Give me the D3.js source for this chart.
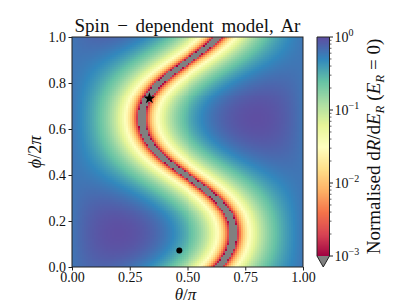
<!DOCTYPE html>
<html><head><meta charset="utf-8">
<script src="https://cdn.jsdelivr.net/npm/d3@7"></script>
<style>
body{margin:0;background:#fff}
svg{display:block}
text{font-family:"Liberation Serif","DejaVu Serif",serif;fill:#111}
</style>
</head><body>
<svg id="chart" width="407" height="305"></svg>
<script>
// ---- data ----
const thetaTicks = [0, 0.25, 0.5, 0.75, 1.0];          // θ/π
const phiTicks = [0, 0.2, 0.4, 0.6, 0.8, 1.0];         // φ/2π
const colorTicks = [1e-3, 1e-2, 1e-1, 1];
const colorTickExp = ["\u22123", "\u22122", "\u22121", "0"];
const colorExtent = [1e-3, 1];
const peakDirection = [0.2, 0.145];   // θ/π, φ/2π of the maximum rate
const falloffPower = [2.25];          // rate ∝ |q̂·d̂|^n
const starMarker = [0.335, 0.733];    // θ/π, φ/2π
const dotMarker = [0.4645, 0.0717];   // θ/π, φ/2π
const gridSize = [116, 116];
const spectral = ["#9e0142","#d53e4f","#f46d43","#fdae61","#fee08b","#ffffbf",
                  "#e6f598","#abdda4","#66c2a5","#3288bd","#5e4fa2"];
const underColor = "#808080";

// ---- layout ----
const svg = d3.select("#chart");
const X0 = 72, X1 = 303, Y0 = 37, Y1 = 267;
const x = d3.scaleLinear([0, 1], [X0, X1]);
const y = d3.scaleLinear([0, 1], [Y1, Y0]);
const cmap = d3.scaleLinear(d3.range(spectral.length).map(i => i / (spectral.length - 1)), spectral)
  .interpolate(d3.interpolateRgb).clamp(true);
const cnorm = d3.scaleLog(colorExtent, [0, 1]);
function colorOf(v){ return v < colorExtent[0] ? underColor : cmap(cnorm(Math.min(v, colorExtent[1]))); }

// ---- field ----
const td = peakDirection[0] * Math.PI, pd = peakDirection[1] * 2 * Math.PI;
const d = [Math.sin(td) * Math.cos(pd), Math.sin(td) * Math.sin(pd), Math.cos(td)];
function rate(t, p){
  const th = t * Math.PI, ph = p * 2 * Math.PI;
  const q = [Math.sin(th) * Math.cos(ph), Math.sin(th) * Math.sin(ph), Math.cos(th)];
  const dot = Math.abs(q[0]*d[0] + q[1]*d[1] + q[2]*d[2]);
  return Math.pow(dot, falloffPower[0]);
}
const [NX, NY] = gridSize;
const canvas = document.createElement("canvas");
canvas.width = NX; canvas.height = NY;
const ctx = canvas.getContext("2d");
const img = ctx.createImageData(NX, NY);
for (let j = 0; j < NY; j++){
  for (let i = 0; i < NX; i++){
    const t = (i + 0.5) / NX, p = 1 - (j + 0.5) / NY;
    const c = d3.rgb(colorOf(rate(t, p)));
    const k = 4 * (j * NX + i);
    img.data[k] = c.r; img.data[k+1] = c.g; img.data[k+2] = c.b; img.data[k+3] = 255;
  }
}
ctx.putImageData(img, 0, 0);
svg.append("image")
  .attr("href", canvas.toDataURL())
  .attr("x", x(0)).attr("y", y(1))
  .attr("width", x(1) - x(0)).attr("height", y(0) - y(1))
  .attr("preserveAspectRatio", "none")
  .style("image-rendering", "pixelated");

// markers
svg.append("path")
  .attr("d", d3.symbol(d3.symbolStar, 42)())
  .attr("transform", `translate(${x(starMarker[0])},${y(starMarker[1])})`)
  .attr("fill", "#000");
svg.append("circle")
  .attr("cx", x(dotMarker[0])).attr("cy", y(dotMarker[1])).attr("r", 3)
  .attr("fill", "#000");

// frame
svg.append("rect").attr("x", X0).attr("y", Y0).attr("width", X1 - X0).attr("height", Y1 - Y0)
  .attr("fill", "none").attr("stroke", "#222").attr("stroke-width", 1);

// axes
const fmtX = d3.format(".2f"), fmtY = d3.format(".1f");
const gx = svg.append("g").attr("transform", `translate(0,${Y1})`)
  .call(d3.axisBottom(x).tickValues(thetaTicks).tickFormat(fmtX).tickSize(3.5).tickPadding(1.5));
const gy = svg.append("g").attr("transform", `translate(${X0},0)`)
  .call(d3.axisLeft(y).tickValues(phiTicks).tickFormat(fmtY).tickSize(3.5).tickPadding(2.5));
[gx, gy].forEach(g => {
  g.select(".domain").remove();
  g.selectAll("line").attr("stroke", "#222");
  g.selectAll("text").style("font-size", "14px").attr("fill", "#111");
});

// title
svg.append("text").attr("x", (X0 + X1) / 2).attr("y", 32).attr("text-anchor", "middle")
  .style("font-size", "19px").style("word-spacing", "3px")
  .text("Spin \u2212 dependent model, Ar");

// x label
const xl = svg.append("text").attr("x", (X0 + X1) / 2 - 2).attr("y", 300).attr("text-anchor", "middle")
  .style("font-size", "17px");
xl.append("tspan").style("font-style", "italic").text("\u03b8");
xl.append("tspan").text("/");
xl.append("tspan").style("font-style", "italic").text("\u03c0");

// y label
const yl = svg.append("text").attr("transform", `translate(41,${(Y0 + Y1) / 2}) rotate(-90)`)
  .attr("text-anchor", "middle").style("font-size", "18px");
yl.append("tspan").style("font-style", "italic").text("\u03d5");
yl.append("tspan").text("/2");
yl.append("tspan").style("font-style", "italic").text("\u03c0");

// colorbar
const CB0 = 317, CB1 = 329.5, CBT = 37, CBB = 256, CBTRI = 267;
const cy = d3.scaleLog(colorExtent, [CBB, CBT]);
const cb = svg.append("g");
const steps = d3.range(0, 220).map(i => i / 220);
cb.selectAll("rect.s").data(steps).join("rect").attr("class", "s")
  .attr("x", CB0).attr("width", CB1 - CB0)
  .attr("y", s => cy(Math.pow(10, -3 + 3 * (s + 1 / 220))))
  .attr("height", s => cy(Math.pow(10, -3 + 3 * s)) - cy(Math.pow(10, -3 + 3 * (s + 1 / 220))) + 0.6)
  .attr("fill", s => cmap(s + 0.5 / 220));
cb.append("path")
  .attr("d", `M${CB0},${CBB}L${(CB0 + CB1) / 2},${CBTRI}L${CB1},${CBB}Z`)
  .attr("fill", underColor);
cb.append("path")
  .attr("d", `M${CB0},${CBB}L${CB0},${CBT}L${CB1},${CBT}L${CB1},${CBB}L${(CB0 + CB1) / 2},${CBTRI}Z`)
  .attr("fill", "none").attr("stroke", "#222").attr("stroke-width", 1);
// minor ticks
const minor = [];
[-3, -2, -1].forEach(e => { for (let m = 2; m <= 9; m++) minor.push(m * Math.pow(10, e)); });
cb.selectAll("line.mi").data(minor).join("line").attr("class", "mi")
  .attr("x1", CB1).attr("x2", CB1 + 2).attr("y1", v => cy(v)).attr("y2", v => cy(v))
  .attr("stroke", "#222").attr("stroke-width", 0.7);
cb.selectAll("line.ma").data(colorTicks).join("line").attr("class", "ma")
  .attr("x1", CB1).attr("x2", CB1 + 3.5).attr("y1", v => cy(v)).attr("y2", v => cy(v))
  .attr("stroke", "#222").attr("stroke-width", 1);
const ctl = cb.selectAll("text.tl").data(colorTicks).join("text").attr("class", "tl")
  .attr("x", CB1 + 5).attr("y", v => cy(v) + 5).style("font-size", "14px");
ctl.append("tspan").text("10");
ctl.append("tspan").attr("dy", -6).style("font-size", "10px").text((v, i) => colorTickExp[i]);

// colorbar label
const cl = svg.append("text").attr("transform", `translate(380,${(CBT + CBB) / 2}) rotate(-90)`)
  .attr("text-anchor", "middle").style("font-size", "19px");
cl.append("tspan").text("Normalised d");
cl.append("tspan").style("font-style", "italic").text("R");
cl.append("tspan").text("/d");
cl.append("tspan").style("font-style", "italic").text("E");
cl.append("tspan").style("font-style", "italic").style("font-size", "13px").attr("dy", 4).text("R");
cl.append("tspan").attr("dy", -4).text(" (");
cl.append("tspan").style("font-style", "italic").text("E");
cl.append("tspan").style("font-style", "italic").style("font-size", "13px").attr("dy", 4).text("R");
cl.append("tspan").attr("dy", -4).text(" = 0)");
</script>
</body></html>
